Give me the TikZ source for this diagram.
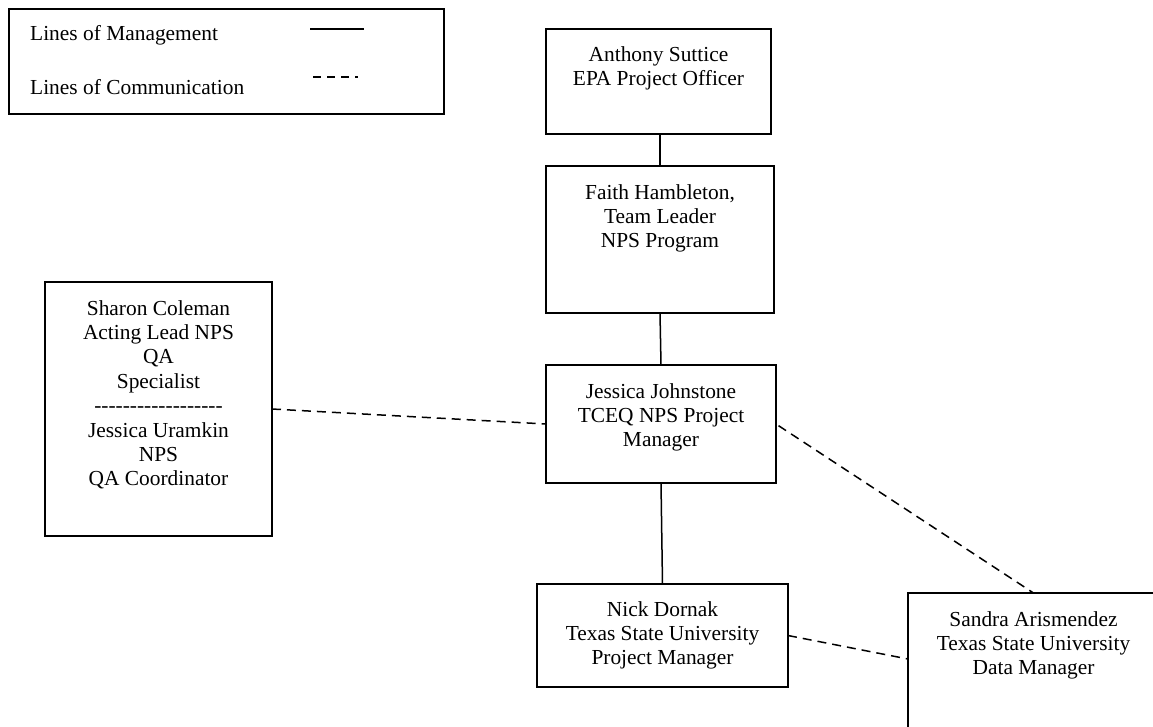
\documentclass[tikz,border=0pt]{standalone}
\usepackage{fontspec}
\setmainfont{Liberation Serif}[Ligatures=TeXOff]
\begin{document}
\begin{tikzpicture}[x=1pt,y=-1pt,
  box/.style={draw=black, line width=2.2pt, fill=white, inner sep=0pt, outer sep=0pt, rectangle},
  txt/.style={align=center, inner sep=0pt, anchor=north, font=\fontsize{21.4}{24.4}\selectfont},
  ltxt/.style={inner sep=0pt, anchor=base west, font=\fontsize{21.4}{24.4}\selectfont},
  mgmt/.style={draw=black, line width=1.5pt},
  comm/.style={draw=black, line width=1.5pt, dash pattern=on 9pt off 6pt},
]
\clip (0,0) rectangle (1153,726);
\fill[white] (0,0) rectangle (1153,726);

% legend
\node[box, minimum width=435, minimum height=105] (legend) at (226.5,61.5) {};
\node[ltxt] (lmgmt) at (30,40) {Lines of Management};
\node[ltxt] (lcomm) at (30,94) {Lines of Communication};
\coordinate (ms) at (310,29);
\coordinate (me) at (364,29);
\coordinate (cs) at (313,77);
\coordinate (ce) at (358,77);
\draw[line width=2pt] (ms) -- (me);
\draw[line width=2pt, dash pattern=on 8pt off 6pt] (cs) -- (ce);

% boxes
\node[box, minimum width=225, minimum height=105] (anthony) at (658.5,81.5) {};
\node[box, minimum width=228, minimum height=147] (faith) at (660,239.5) {};
\node[box, minimum width=227, minimum height=254] (sharon) at (158.5,409) {};
\node[box, minimum width=230, minimum height=118] (jj) at (661,424) {};
\node[box, minimum width=251, minimum height=103] (nick) at (662.5,635.5) {};
\node[box, minimum width=251, minimum height=137] (sandra) at (1033.5,661.5) {};
\coordinate (sandraw) at ([yshift=2.5pt]sandra.west);

% texts
\node[txt] (tanthony) at ([yshift=-17pt]anthony.north) {Anthony Suttice\\EPA Project Officer};
\node[txt] (tfaith) at ([yshift=-18pt]faith.north) {Faith Hambleton,\\Team Leader\\NPS Program};
\node[txt] (tsharon) at ([yshift=-18pt]sharon.north) {Sharon Coleman\\Acting Lead NPS\\QA\\Specialist\\------------------\\Jessica Uramkin\\NPS\\QA Coordinator};
\node[txt] (tjj) at ([yshift=-18pt]jj.north) {Jessica Johnstone\\TCEQ NPS Project\\Manager};
\node[txt] (tnick) at ([yshift=-17pt]nick.north) {Nick Dornak\\Texas State University\\Project Manager};
\node[txt] (tsandra) at ([yshift=-18pt]sandra.north) {Sandra Arismendez\\Texas State University\\Data Manager};

% connectors
\draw[mgmt] (faith.north) -- (faith.north |- anthony.south);
\draw[mgmt] (faith.south) -- (jj.north);
\draw[mgmt] (jj.south) -- (nick.north);
\draw[comm] (sharon.east) -- (jj.west);
\draw[comm, shorten <=3pt] (jj.east) -- (sandra.north);
\draw[comm] (nick.east) -- (sandraw);
\end{tikzpicture}
\end{document}
